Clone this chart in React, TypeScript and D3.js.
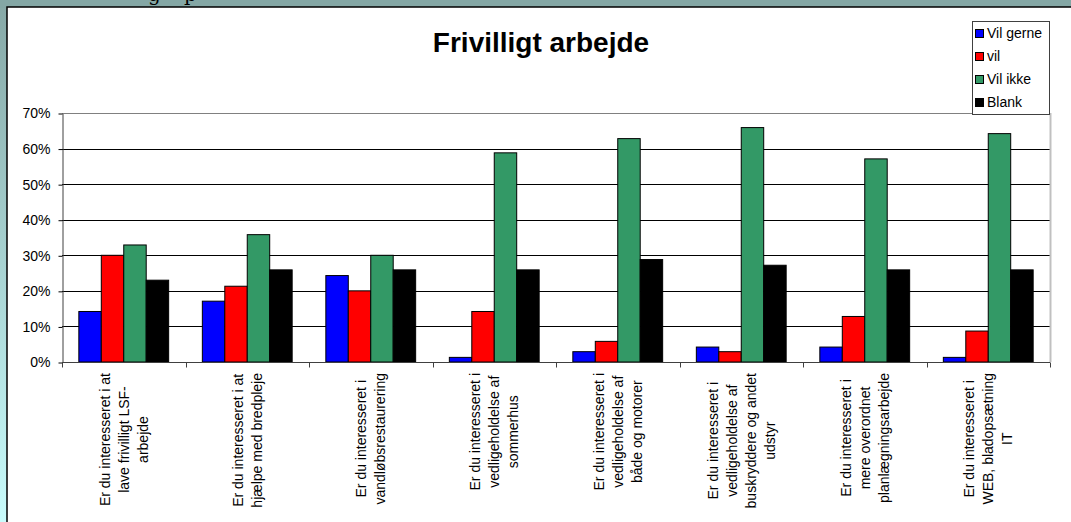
import {default as React, useEffect, useRef} from "react";
import * as d3 from "d3";

const categories: string[][] = [
    ["Er du interesseret i at", "lave frivilligt LSF-", "arbejde"],
    ["Er du interesseret i at", "hjælpe med bredpleje"],
    ["Er du interesseret i", "vandløbsrestaurering"],
    ["Er du interesseret i", "vedligeholdelse af", "sommerhus"],
    ["Er du interesseret i", "vedligeholdelse af", "både og motorer"],
    ["Er du interesseret i", "vedligeholdelse af", "buskryddere og andet", "udstyr"],
    ["Er du interesseret i", "mere overordnet", "planlægningsarbejde"],
    ["Er du interesseret i", "WEB, bladopsætning", "IT"]
];

const seriesNames = ["Vil gerne", "vil", "Vil ikke", "Blank"];
const seriesColors = ["#0000FF", "#FF0000", "#339966", "#000000"];

const vilGerne = [14.2, 17.1, 24.3, 1.3, 2.9, 4.2, 4.2, 1.3];
const vil = [30.0, 21.3, 20.0, 14.2, 5.8, 2.9, 12.8, 8.7];
const vilIkke = [32.9, 35.8, 30.0, 58.8, 62.8, 65.9, 57.1, 64.2];
const blank = [23.0, 25.9, 25.9, 25.9, 28.8, 27.2, 25.9, 25.9];

const yTicks = [0, 0.1, 0.2, 0.3, 0.4, 0.5, 0.6, 0.7];

const WIDTH = 1071;
const HEIGHT = 522;
const FONT = "Arial, 'Liberation Sans', sans-serif";

function App(): JSX.Element {
    const ref = useRef<SVGSVGElement>(null);

    useEffect(() => {
        if (!ref.current) return;
        const svg = d3.select(ref.current);
        svg.selectAll("*").remove();

        const plot = {left: 62, right: 1050, top: 113, bottom: 362};
        const values = [vilGerne, vil, vilIkke, blank];

        // background: teal frame with white slide panel
        const defs = svg.append("defs");
        const grad = defs.append("linearGradient")
            .attr("id", "side").attr("x1", 0).attr("y1", 0).attr("x2", 0).attr("y2", 1);
        grad.append("stop").attr("offset", "0%").attr("stop-color", "#86A8A6");
        grad.append("stop").attr("offset", "100%").attr("stop-color", "#C8FCFC");

        svg.append("rect").attr("width", WIDTH).attr("height", HEIGHT).attr("fill", "url(#side)");
        svg.append("rect").attr("width", WIDTH).attr("height", 8).attr("fill", "#84A7A5");
        // descenders of the slide heading above, cut off by the page edge
        svg.append("text").attr("x", 148).attr("y", 1).attr("font-family", "'DejaVu Serif', serif")
            .attr("font-size", 20).text("g");
        svg.append("text").attr("x", 184).attr("y", 1).attr("font-family", "'DejaVu Serif', serif")
            .attr("font-size", 20).text("p");
        svg.append("rect").attr("x", 7).attr("y", 7).attr("width", WIDTH).attr("height", HEIGHT)
            .attr("fill", "#fff").attr("stroke", "#000").attr("stroke-width", 1.5);

        // scales
        const x0 = d3.scaleBand<number>()
            .domain(d3.range(categories.length))
            .range([plot.left, plot.right])
            .padding(0);
        const barW = x0.bandwidth() / 5.5;
        const x1 = d3.scaleBand<number>()
            .domain(d3.range(seriesNames.length))
            .range([barW * 0.75, x0.bandwidth() - barW * 0.75]);
        const y = d3.scaleLinear().domain([0, 0.7]).range([plot.bottom, plot.top]);

        // gridlines
        svg.append("g").selectAll("line").data(yTicks).enter().append("line")
            .attr("x1", plot.left).attr("x2", plot.right)
            .attr("y1", d => Math.round(y(d)) + 0.5).attr("y2", d => Math.round(y(d)) + 0.5)
            .attr("stroke", d => d === 0.7 ? "#808080" : "#000").attr("stroke-width", 1);

        // right border of plot area
        svg.append("line").attr("x1", plot.right + 0.5).attr("x2", plot.right + 0.5)
            .attr("y1", plot.top).attr("y2", plot.bottom)
            .attr("stroke", "#c0c0c0").attr("stroke-width", 2);

        // bars
        const groups = svg.append("g").selectAll("g").data(categories).enter().append("g")
            .attr("transform", (_, i) => `translate(${x0(i)},0)`);
        groups.selectAll("rect")
            .data((_, i) => values.map((s, k) => ({k, v: s[i] / 100})))
            .enter().append("rect")
            .attr("x", d => x1(d.k) as number)
            .attr("width", x1.bandwidth())
            .attr("y", d => y(d.v))
            .attr("height", d => y(0) - y(d.v))
            .attr("fill", d => seriesColors[d.k])
            .attr("stroke", "#000").attr("stroke-width", 1);

        // y axis
        const yAxis = svg.append("g")
            .attr("transform", `translate(${plot.left + 0.5},0.5)`)
            .call(d3.axisLeft(y).tickValues(yTicks).tickFormat(d3.format(".0%")).tickSize(4).tickSizeOuter(0));
        yAxis.select(".domain").attr("stroke", "#404040");
        yAxis.selectAll("text").attr("font-family", FONT).attr("font-size", 14).attr("fill", "#000")
            .attr("dx", -5);

        // x axis with ticks between categories
        const xAxisG = svg.append("g").attr("transform", `translate(0,${Math.round(plot.bottom) + 0.5})`);
        xAxisG.append("line").attr("x1", plot.left).attr("x2", plot.right).attr("stroke", "#404040");
        xAxisG.selectAll("line.tick").data(d3.range(categories.length + 1)).enter().append("line")
            .attr("class", "tick")
            .attr("x1", i => Math.round(plot.left + i * x0.step()) + 0.5)
            .attr("x2", i => Math.round(plot.left + i * x0.step()) + 0.5)
            .attr("y1", 0).attr("y2", 5).attr("stroke", "#404040");

        // category labels, rotated, lines centred to each other
        const lineH = 19;
        const labelTop = 373;
        categories.forEach((lines, i) => {
            const cx = (x0(i) as number) + x0.bandwidth() / 2;
            const t = svg.append("text")
                .attr("font-family", FONT).attr("font-size", 14).attr("text-anchor", "middle");
            lines.forEach((ln, j) => {
                t.append("tspan").attr("x", 0)
                    .attr("y", (j - (lines.length - 1) / 2) * lineH + 5)
                    .text(ln);
            });
            let maxLen = 0;
            t.selectAll<SVGTSpanElement, unknown>("tspan").each(function () {
                maxLen = Math.max(maxLen, this.getComputedTextLength());
            });
            t.attr("transform", `translate(${cx},${labelTop + maxLen / 2}) rotate(-90)`);
        });

        // title
        svg.append("text").attr("x", 541).attr("y", 52).attr("text-anchor", "middle")
            .attr("font-family", FONT).attr("font-weight", "bold").attr("font-size", 28)
            .text("Frivilligt arbejde");

        // legend
        const lg = svg.append("g");
        lg.append("rect").attr("x", 972.5).attr("y", 21.5).attr("width", 77).attr("height", 93)
            .attr("fill", "#fff").attr("stroke", "#404040").attr("stroke-width", 1);
        seriesNames.forEach((name, k) => {
            const cy = 33 + k * 23;
            lg.append("rect").attr("x", 975.5).attr("y", cy - 3.5).attr("width", 8).attr("height", 8)
                .attr("fill", seriesColors[k]).attr("stroke", "#000");
            lg.append("text").attr("x", 987).attr("y", cy + 5)
                .attr("font-family", FONT).attr("font-size", 14).text(name);
        });
    }, []);

    return (
        <svg
            ref={ref}
            width={WIDTH}
            height={HEIGHT}
            style={{position: "absolute", left: 0, top: 0}}
        />
    );
}

export default App;
